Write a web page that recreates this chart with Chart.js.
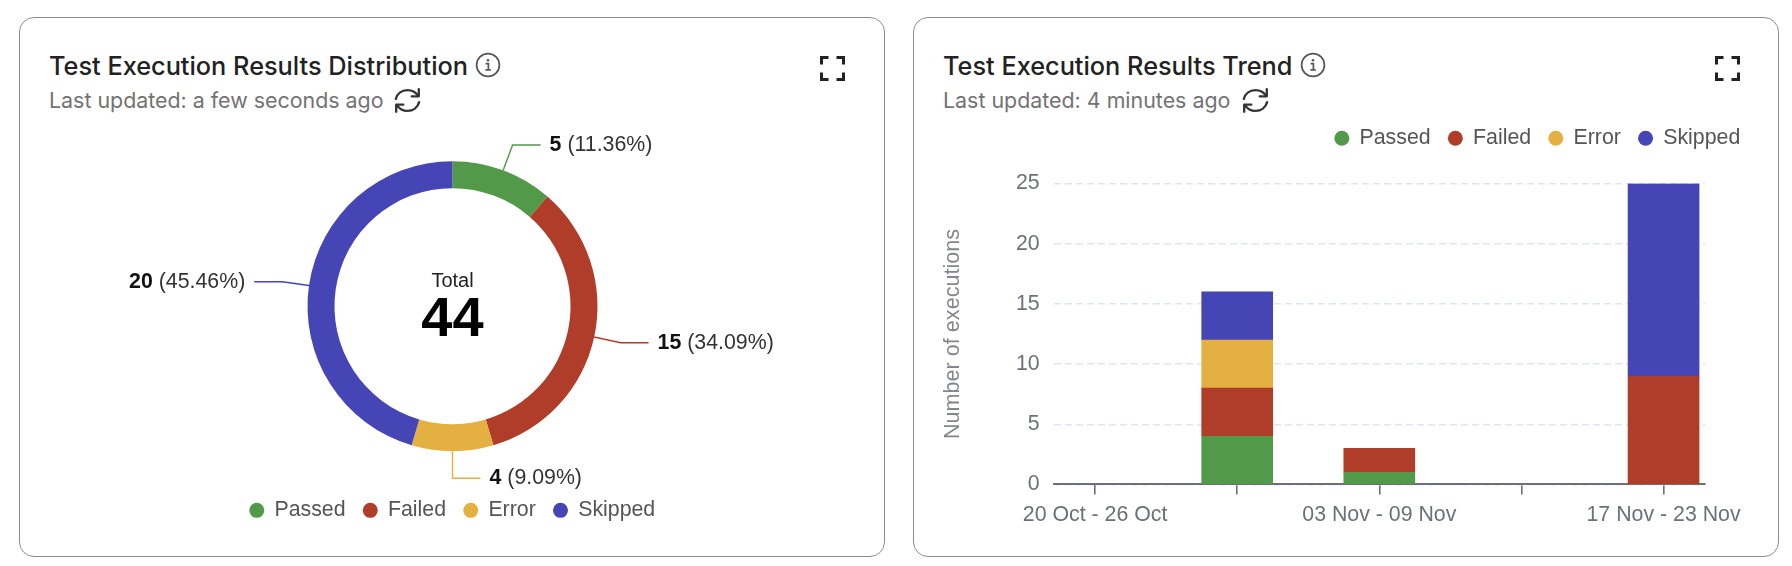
<!DOCTYPE html>
<html>
<head>
<meta charset="utf-8">
<script src="https://cdn.jsdelivr.net/npm/chart.js@4"></script>
<style>
html,body{margin:0;padding:0;background:#fff;width:1792px;height:566px;overflow:hidden}
.card{position:absolute;top:17px;height:538px;width:864px;border:1px solid #8c8c8c;border-radius:15px;box-sizing:content-box}
.t{position:absolute;white-space:nowrap;font-family:Inter,sans-serif;line-height:1}
.title{font-size:25.3px;font-weight:500;color:#222;top:53px}
.sub{font-size:21.4px;font-weight:400;color:#737373;top:90px}
svg.i{position:absolute;overflow:visible}
canvas{position:absolute}
</style>
</head>
<body>
<div class="card" style="left:19px"></div>
<div class="card" style="left:913px"></div>

<div class="t title" style="left:49px">Test Execution Results Distribution</div>
<div class="t sub" style="left:49px">Last updated: a few seconds ago</div>
<div class="t title" style="left:943px">Test Execution Results Trend</div>
<div class="t sub" style="left:943px">Last updated: 4 minutes ago</div>

<svg class="i" style="left:475px;top:52px" width="26" height="26" viewBox="0 0 26 26"><circle cx="13" cy="13" r="11.4" fill="none" stroke="#555" stroke-width="1.7"/><path d="M10.6 11.6h2.8v6M10.4 17.8h5.4" fill="none" stroke="#555" stroke-width="1.7"/><circle cx="13" cy="8.2" r="1.3" fill="#555"/></svg>
<svg class="i" style="left:1300px;top:52px" width="26" height="26" viewBox="0 0 26 26"><circle cx="13" cy="13" r="11.4" fill="none" stroke="#555" stroke-width="1.7"/><path d="M10.6 11.6h2.8v6M10.4 17.8h5.4" fill="none" stroke="#555" stroke-width="1.7"/><circle cx="13" cy="8.2" r="1.3" fill="#555"/></svg>

<svg class="i" style="left:392px;top:85px" width="31" height="31" viewBox="0 0 28 28"><g fill="none" stroke="#333" stroke-width="2.1" stroke-linecap="round" stroke-linejoin="round"><path d="M3.5 12.5C4.8 7.6 9 4.6 14 4.6c4 0 7.4 1.8 9.6 5.2"/><path d="M24.2 3.8v6.4h-6.4"/><path d="M24.5 15.5c-1.3 4.9-5.5 7.9-10.5 7.9-4 0-7.4-1.8-9.6-5.2"/><path d="M3.8 24.2v-6.4h6.4"/></g></svg>
<svg class="i" style="left:1240px;top:85px" width="31" height="31" viewBox="0 0 28 28"><g fill="none" stroke="#333" stroke-width="2.1" stroke-linecap="round" stroke-linejoin="round"><path d="M3.5 12.5C4.8 7.6 9 4.6 14 4.6c4 0 7.4 1.8 9.6 5.2"/><path d="M24.2 3.8v6.4h-6.4"/><path d="M24.5 15.5c-1.3 4.9-5.5 7.9-10.5 7.9-4 0-7.4-1.8-9.6-5.2"/><path d="M3.8 24.2v-6.4h6.4"/></g></svg>

<svg class="i" style="left:820px;top:56px" width="25" height="25" viewBox="0 0 25 25"><path d="M1.5 8.5V1.5H8.5M16.5 1.5H23.5V8.5M23.5 16.5V23.5H16.5M8.5 23.5H1.5V16.5" fill="none" stroke="#222" stroke-width="3"/></svg>
<svg class="i" style="left:1715px;top:56px" width="25" height="25" viewBox="0 0 25 25"><path d="M1.5 8.5V1.5H8.5M16.5 1.5H23.5V8.5M23.5 16.5V23.5H16.5M8.5 23.5H1.5V16.5" fill="none" stroke="#222" stroke-width="3"/></svg>

<canvas id="donut" width="865" height="431" style="left:20px;top:100px"></canvas>
<canvas id="bars" width="845" height="436" style="left:913px;top:100px"></canvas>

<script>
// ---- data ----
const statusNames = ['Passed', 'Failed', 'Error', 'Skipped'];
const statusColors = ['#529949', '#B03C2A', '#E5B042', '#4545B5'];
const distributionCounts = [5, 15, 4, 20];
const distributionPercents = ['11.36', '34.09', '9.09', '45.46'];
const distributionTotal = 44;

const weekLabels = ['20 Oct - 26 Oct', '27 Oct - 02 Nov', '03 Nov - 09 Nov', '10 Nov - 16 Nov', '17 Nov - 23 Nov'];
const passedByWeek = [0, 4, 1, 0, 0];
const failedByWeek = [0, 4, 2, 0, 9];
const errorByWeek = [0, 4, 0, 0, 0];
const skippedByWeek = [0, 4, 0, 0, 16];
const yTicksMax = 25;
const yTickStep = 5;
// ---------------

const SANS = '"Liberation Sans", Arial, sans-serif';
const LABEL_SIZE = 21.33;
const GREY = '#6E7079';

Chart.defaults.animation = false;
Chart.defaults.font.family = SANS;

const legendLabels = {
  usePointStyle: true, boxWidth: 14, boxHeight: 10.6, padding: 17.7,
  color: '#555', font: { size: LABEL_SIZE, family: SANS }
};

const donutLabels = {
  id: 'donutLabels',
  afterDatasetsDraw(chart) {
    const ctx = chart.ctx;
    const arcs = chart.getDatasetMeta(0).data;
    ctx.save();
    arcs.forEach((arc, i) => {
      const p = arc.getProps(['x', 'y', 'startAngle', 'endAngle', 'outerRadius'], true);
      const mid = (p.startAngle + p.endAngle) / 2;
      const cos = Math.cos(mid), sin = Math.sin(mid);
      const x0 = p.x + cos * p.outerRadius, y0 = p.y + sin * p.outerRadius;
      const x1 = p.x + cos * (p.outerRadius + 27), y1 = p.y + sin * (p.outerRadius + 27);
      const right = cos >= -1e-6;
      const x2 = x1 + (right ? 28 : -28);
      ctx.strokeStyle = statusColors[i];
      ctx.lineWidth = 1.4;
      ctx.beginPath(); ctx.moveTo(x0, y0); ctx.lineTo(x1, y1); ctx.lineTo(x2, y1); ctx.stroke();
      const val = String(distributionCounts[i]);
      const pct = ' (' + distributionPercents[i] + '%)';
      ctx.textBaseline = 'middle';
      ctx.textAlign = 'left';
      ctx.font = 'bold ' + LABEL_SIZE + 'px ' + SANS;
      const w1 = ctx.measureText(val).width;
      ctx.font = LABEL_SIZE + 'px ' + SANS;
      const w2 = ctx.measureText(pct).width;
      const tx = right ? x2 + 9 : x2 - 9 - w1 - w2;
      ctx.font = 'bold ' + LABEL_SIZE + 'px ' + SANS;
      ctx.fillStyle = '#111';
      ctx.fillText(val, tx, y1);
      ctx.font = LABEL_SIZE + 'px ' + SANS;
      ctx.fillStyle = '#333';
      ctx.fillText(pct, tx + w1, y1);
    });
    const c = arcs[0].getProps(['x', 'y'], true);
    ctx.textAlign = 'center';
    ctx.textBaseline = 'middle';
    ctx.fillStyle = '#222';
    ctx.font = '20px ' + SANS;
    ctx.fillText('Total', c.x, c.y - 25);
    ctx.fillStyle = '#000';
    ctx.font = 'bold 56px ' + SANS;
    ctx.fillText(String(distributionTotal), c.x, c.y + 14);
    ctx.restore();
  }
};

new Chart(document.getElementById('donut'), {
  type: 'doughnut',
  data: {
    labels: statusNames,
    datasets: [{ data: distributionCounts, backgroundColor: statusColors, borderWidth: 0 }]
  },
  options: {
    responsive: false,
    radius: 145,
    cutout: '81.4%',
    layout: { padding: { top: 30.4 } },
    plugins: {
      legend: { position: 'bottom', labels: legendLabels },
      tooltip: { enabled: false }
    }
  },
  plugins: [donutLabels]
});

const weekSeries = [passedByWeek, failedByWeek, errorByWeek, skippedByWeek];

const legendGap = {
  id: 'legendGap',
  beforeInit(chart) {
    const fit = chart.legend.fit;
    chart.legend.fit = function () { fit.call(this); this.height += 24.6; };
  },
  afterLayout(chart) {
    chart.legend.right = chart.width;
  }
};

new Chart(document.getElementById('bars'), {
  type: 'bar',
  data: {
    datasets: statusNames.map((name, s) => ({
      label: name,
      // empty weeks draw no bar at all, not a hairline on the axis
      data: weekSeries[s].map((v, i) => ({ x: i, y: v === 0 ? null : v })),
      backgroundColor: statusColors[s],
      borderWidth: 0,
      barThickness: 71,
      stack: 'all'
    }))
  },
  options: {
    responsive: false,
    layout: { padding: { top: 9.9, left: 27, right: 53 } },
    plugins: {
      legend: { position: 'top', align: 'end', labels: legendLabels },
      tooltip: { enabled: false }
    },
    scales: {
      x: {
        type: 'linear',
        offset: false,
        stacked: true,
        min: -0.2916,
        max: weekLabels.length - 1 + 0.2916,
        grid: { offset: false, drawOnChartArea: false, tickLength: 10, tickColor: GREY, lineWidth: 1.6 },
        border: { color: GREY, width: 2 },
        ticks: {
          stepSize: 1,
          includeBounds: false,
          autoSkip: false,
          maxRotation: 0,
          padding: 8,
          color: GREY,
          font: { size: LABEL_SIZE },
          callback: v => (v % 2 === 0 ? weekLabels[v] : '')
        }
      },
      y: {
        stacked: true,
        min: 0,
        max: yTicksMax,
        grid: { color: '#E0E6F1', lineWidth: 1.4, drawTicks: false },
        border: { display: false, dash: [7, 4] },
        ticks: { stepSize: yTickStep, padding: 14, color: GREY, font: { size: LABEL_SIZE } },
        title: {
          display: true,
          text: 'Number of executions',
          color: '#85868d',
          font: { size: 21.6 },
          padding: { top: 0, bottom: 36 }
        }
      }
    }
  },
  plugins: [legendGap]
});
</script>
</body>
</html>
